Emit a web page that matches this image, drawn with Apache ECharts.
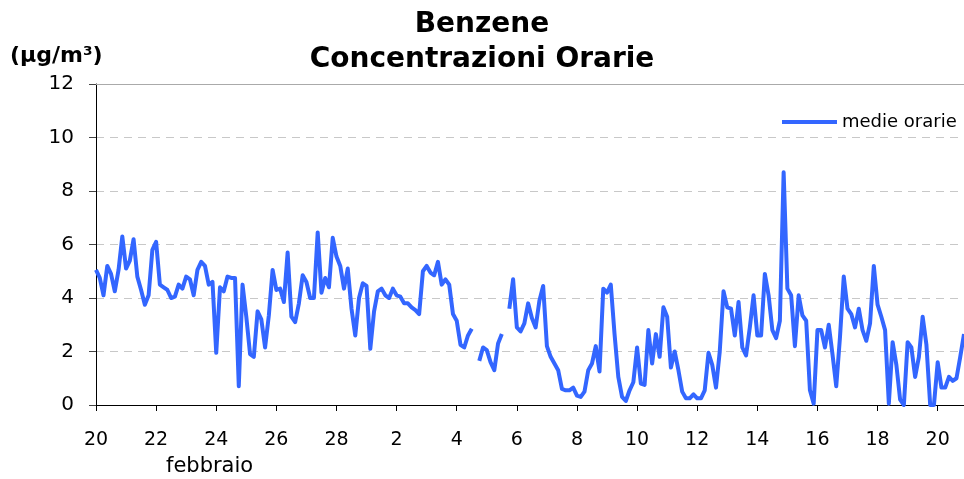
<!DOCTYPE html>
<html><head><meta charset="utf-8">
<script src="https://cdn.jsdelivr.net/npm/echarts@6/dist/echarts.min.js"></script>
<style>html,body{margin:0;padding:0;background:#fff}#c{width:964px;height:479px}</style>
</head><body><div id="c"></div>
<script>
// x tick labels (every 2 days, starting 20 febbraio)
const tickLabels = ['20','22','24','26','28','2','4','6','8','10','12','14','16','18','20'];
const seriesName = 'medie orarie';
// samples every 3 hours (8 per day), Feb 20 00:00 onward
const samplesPerDay = 8;
const febValues = [
  5.05, 4.75, 4.1, 5.2, 4.9, 4.25, 5.05, 6.3,
  5.1, 5.4, 6.2, 4.8, 4.3, 3.75, 4.1, 5.8,
  6.1, 4.5, 4.4, 4.3, 4.0, 4.05, 4.5, 4.35,
  4.8, 4.7, 4.1, 5.05, 5.35, 5.2, 4.5, 4.6,
  1.95, 4.4, 4.25, 4.8, 4.75, 4.75, 0.7, 4.5,
  3.3, 1.9, 1.8, 3.5, 3.2, 2.15, 3.35, 5.05,
  4.3, 4.35, 3.85, 5.7, 3.3, 3.1, 3.8, 4.85,
  4.6, 4.0, 4.0, 6.45, 4.2, 4.75, 4.4, 6.25,
  5.55, 5.2, 4.35, 5.1, 3.6, 2.6, 4.0, 4.55
];
const marValues = [
  4.45, 2.1, 3.5, 4.25, 4.35, 4.1, 4.0, 4.35,
  4.1, 4.05, 3.8, 3.8, 3.65, 3.55, 3.4, 5.0,
  5.2, 4.95, 4.85, 5.35, 4.5, 4.7, 4.5, 3.4,
  3.15, 2.25, 2.15, 2.6, 2.85, null, 1.65, 2.15,
  2.05, 1.6, 1.3, 2.3, 2.65, null, 3.6, 4.7,
  2.9, 2.75, 3.05, 3.8, 3.25, 2.9, 3.9, 4.45,
  2.2, 1.8, 1.55, 1.3, 0.6, 0.55, 0.55, 0.65,
  0.35, 0.3, 0.5, 1.3, 1.55, 2.2, 1.25, 4.35,
  4.2, 4.5, 2.65, 1.05, 0.3, 0.15, 0.55, 0.85,
  2.15, 0.8, 0.75, 2.8, 1.55, 2.65, 1.8, 3.65,
  3.3, 1.4, 2.0, 1.3, 0.5, 0.25, 0.25, 0.4,
  0.25, 0.25, 0.55, 1.95, 1.5, 0.65, 2.0, 4.25,
  3.65, 3.6, 2.6, 3.85, 2.15, 1.85, 2.9, 4.1,
  2.6, 2.6, 4.9, 4.1, 2.8, 2.5, 3.15, 8.7,
  4.35, 4.1, 2.2, 4.1, 3.35, 3.15, 0.55, 0.05,
  2.8, 2.8, 2.15, 3.0, 1.9, 0.7, 2.55, 4.8,
  3.6, 3.4, 2.9, 3.6, 2.8, 2.4, 3.05, 5.2,
  3.75, 3.3, 2.8, 0.05, 2.35, 1.5, 0.2, 0.0,
  2.35, 2.15, 1.05, 1.8, 3.3, 2.25, 0.0, 0.0,
  1.6, 0.65, 0.65, 1.05, 0.9, 1.0, 1.8, 2.65
];

const allValues = febValues.concat(marValues);
const data = allValues.map((v, i) => [i / samplesPerDay, v]);
const lastT = (allValues.length - 1) / samplesPerDay;

const chart = echarts.init(document.getElementById('c'), null, {renderer: 'canvas'});
const FONT = 'DejaVu Sans';
chart.setOption({
  animation: false,
  backgroundColor: '#ffffff',
  textStyle: {fontFamily: FONT},
  title: {
    text: 'Benzene\nConcentrazioni Orarie',
    left: 'center', top: 2,
    textStyle: {fontFamily: FONT, fontSize: 28, fontWeight: 'bold', color: '#000', lineHeight: 35}
  },
  graphic: [
    {type: 'text', left: 10, top: 45, style: {text: '(µg/m³)', fontFamily: FONT, fontSize: 22, fontWeight: 'bold', fill: '#000'}},
    {type: 'text', left: 166, top: 456, style: {text: 'febbraio', fontFamily: FONT, fontSize: 21, fill: '#000'}}
  ],
  legend: {
    data: [seriesName], left: 777, top: 108,
    icon: 'rect', itemWidth: 55, itemHeight: 4, itemGap: 5,
    textStyle: {fontFamily: FONT, fontSize: 18, color: '#000'}
  },
  grid: {left: 96, right: 0, top: 84, bottom: 74, containLabel: false},
  xAxis: [{
    type: 'value', min: 0, max: lastT, interval: 2,
    axisLine: {show: true, lineStyle: {color: '#000', width: 1}},
    axisTick: {show: true, length: 6, lineStyle: {color: '#000'}},
    axisLabel: {
      color: '#000', fontSize: 19, margin: 26, showMaxLabel: false,
      formatter: v => (Math.abs(v / 2 - Math.round(v / 2)) < 1e-6 ? (tickLabels[Math.round(v / 2)] || '') : '')
    },
    splitLine: {show: false}
  }, {
    type: 'value', position: 'top', min: 0, max: lastT,
    axisLine: {show: true, lineStyle: {color: '#aaa', width: 1}},
    axisTick: {show: false}, axisLabel: {show: false}, splitLine: {show: false}
  }],
  yAxis: {
    type: 'value', min: 0, max: 12, interval: 2,
    axisLine: {show: true, lineStyle: {color: '#000', width: 1}},
    axisTick: {show: true, length: 7, lineStyle: {color: '#444'}},
    axisLabel: {color: '#000', fontSize: 20, margin: 22},
    splitLine: {show: true, lineStyle: {color: '#c8c8c8', type: [8, 6], width: 1}}
  },
  series: [{
    name: seriesName, type: 'line', xAxisIndex: 0, data: data,
    showSymbol: false, symbol: 'none', connectNulls: false,
    lineStyle: {color: '#3366ff', width: 4, join: 'round'},
    itemStyle: {color: '#3366ff'}
  }]
});
</script></body></html>
